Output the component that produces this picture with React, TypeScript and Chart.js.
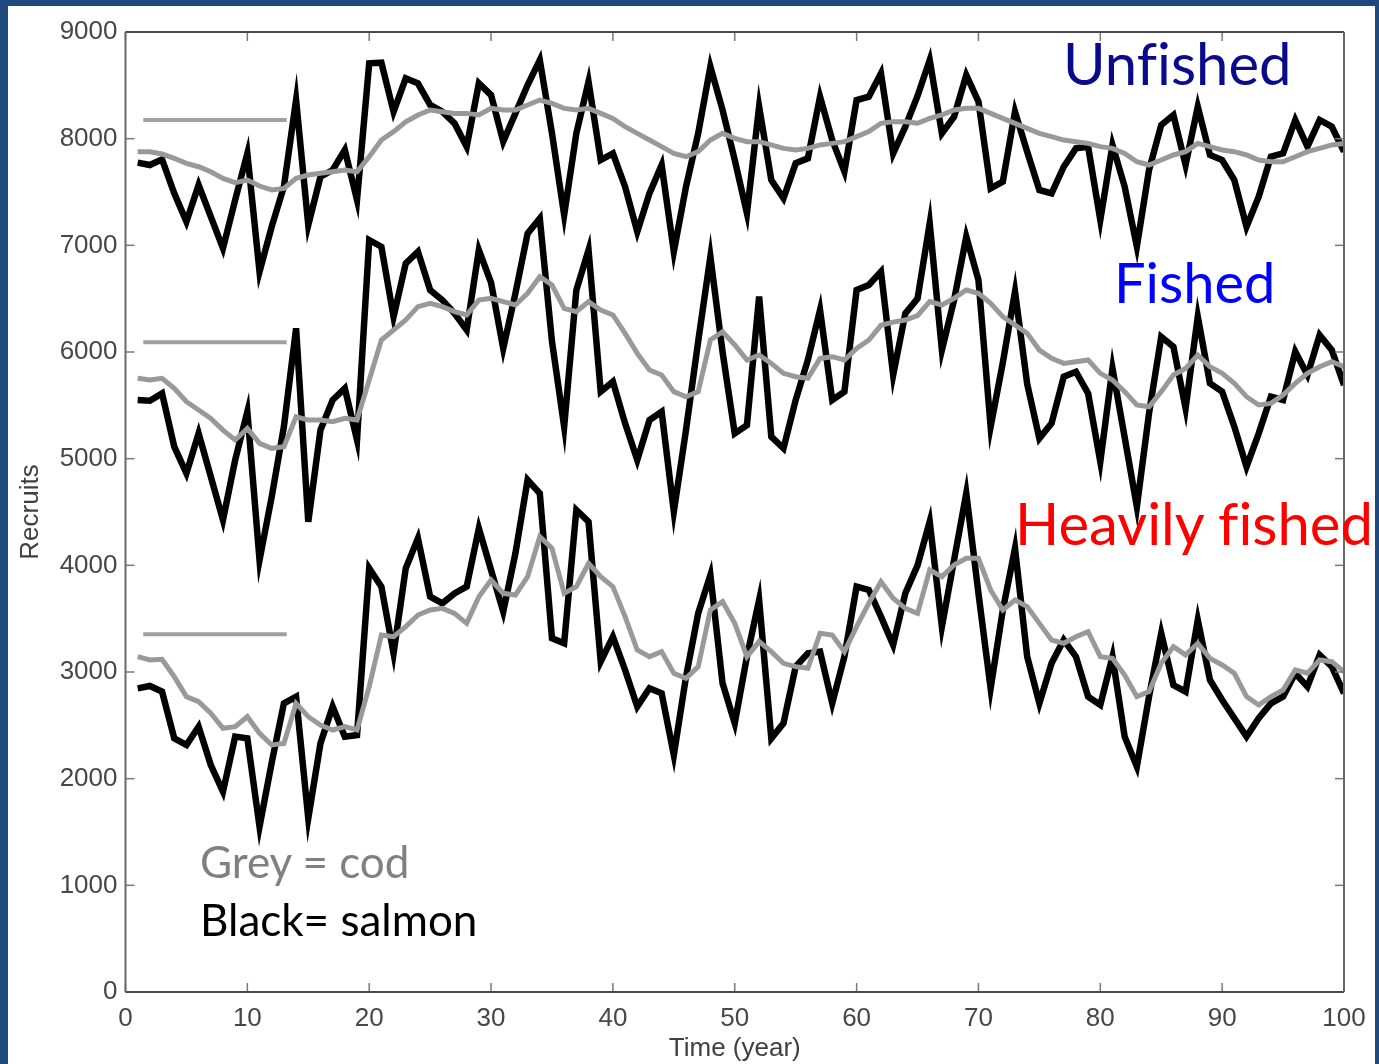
import React, { useEffect, useRef } from 'react';
import { Chart, registerables } from 'chart.js';

Chart.register(...registerables);

const years = [
  1, 2, 3, 4, 5, 6, 7, 8, 9, 10, 11, 12, 13, 14, 15, 16, 17, 18, 19, 20,
  21, 22, 23, 24, 25, 26, 27, 28, 29, 30, 31, 32, 33, 34, 35, 36, 37, 38, 39, 40,
  41, 42, 43, 44, 45, 46, 47, 48, 49, 50, 51, 52, 53, 54, 55, 56, 57, 58, 59, 60,
  61, 62, 63, 64, 65, 66, 67, 68, 69, 70, 71, 72, 73, 74, 75, 76, 77, 78, 79, 80,
  81, 82, 83, 84, 85, 86, 87, 88, 89, 90, 91, 92, 93, 94, 95, 96, 97, 98, 99, 100,
];

const unfishedSalmon = [
  7775, 7753, 7806, 7487, 7222, 7566, 7269, 6972, 7425, 7862,
  6753, 7175, 7550, 8362, 7190, 7644, 7706, 7894, 7425, 8706,
  8712, 8253, 8566, 8519, 8316, 8253, 8144, 7925, 8519, 8409,
  7972, 8237, 8503, 8737, 8050, 7284, 8050, 8534, 7800, 7862,
  7550, 7128, 7487, 7753, 6941, 7550, 8050, 8675, 8269, 7800,
  7300, 8300, 7612, 7441, 7769, 7816, 8394, 7987, 7691, 8362,
  8394, 8612, 7862, 8112, 8400, 8737, 8050, 8206, 8597, 8347,
  7534, 7597, 8253, 7878, 7519, 7487, 7737, 7909, 7925, 7237,
  7940, 7550, 6988, 7706, 8128, 8222, 7753, 8300, 7847, 7800,
  7612, 7175, 7456, 7831, 7862, 8175, 7925, 8175, 8112, 7878,
];

const unfishedCod = [
  7878, 7878, 7856, 7816, 7769, 7737, 7690, 7628, 7587, 7612,
  7556, 7519, 7534, 7628, 7659, 7675, 7690, 7706, 7690, 7831,
  7987, 8066, 8159, 8222, 8269, 8253, 8237, 8237, 8222, 8284,
  8269, 8269, 8316, 8362, 8331, 8284, 8269, 8284, 8237, 8190,
  8112, 8050, 7987, 7925, 7862, 7831, 7878, 7987, 8050, 8003,
  7972, 7972, 7941, 7909, 7894, 7909, 7941, 7956, 7972, 8019,
  8066, 8144, 8159, 8159, 8144, 8190, 8222, 8269, 8284, 8284,
  8237, 8190, 8144, 8097, 8050, 8019, 7987, 7972, 7956, 7925,
  7909, 7862, 7784, 7753, 7800, 7847, 7878, 7956, 7925, 7894,
  7878, 7847, 7800, 7784, 7784, 7831, 7878, 7909, 7941, 7956,
];

const fishedSalmon = [
  5550, 5543, 5612, 5112, 4862, 5237, 4831, 4425, 4987, 5440,
  4050, 4643, 5300, 6222, 4409, 5268, 5550, 5659, 5175, 7050,
  6987, 6331, 6831, 6941, 6581, 6487, 6362, 6206, 6956, 6650,
  6034, 6550, 7112, 7253, 6100, 5300, 6581, 6956, 5628, 5722,
  5331, 4987, 5362, 5440, 4503, 5268, 6100, 6894, 6000, 5237,
  5315, 6519, 5206, 5097, 5550, 5925, 6394, 5550, 5628, 6581,
  6628, 6753, 5784, 6362, 6500, 7206, 6019, 6487, 7081, 6675,
  5300, 5900, 6566, 5700, 5190, 5331, 5768, 5815, 5612, 4972,
  5846, 5200, 4550, 5425, 6143, 6050, 5472, 6331, 5706, 5628,
  5300, 4925, 5237, 5581, 5550, 6003, 5784, 6159, 6018, 5690,
];

const fishedCod = [
  5753, 5737, 5753, 5659, 5534, 5456, 5378, 5268, 5175, 5284,
  5143, 5097, 5112, 5393, 5362, 5362, 5346, 5378, 5362, 5737,
  6112, 6206, 6300, 6425, 6456, 6425, 6378, 6347, 6487, 6503,
  6472, 6441, 6550, 6706, 6628, 6409, 6378, 6472, 6394, 6347,
  6175, 5987, 5831, 5784, 5628, 5581, 5628, 6112, 6190, 6066,
  5925, 5972, 5893, 5800, 5768, 5753, 5940, 5956, 5925, 6034,
  6112, 6250, 6280, 6300, 6340, 6472, 6441, 6503, 6581, 6550,
  6456, 6331, 6253, 6175, 6018, 5940, 5893, 5909, 5925, 5800,
  5737, 5628, 5503, 5487, 5628, 5784, 5846, 5972, 5862, 5800,
  5706, 5581, 5503, 5518, 5597, 5706, 5800, 5862, 5909, 5862,
];

const heavySalmon = [
  2847, 2869, 2816, 2378, 2316, 2488, 2128, 1878, 2394, 2378,
  1550, 2150, 2706, 2769, 1628, 2331, 2675, 2394, 2409, 3972,
  3800, 3175, 3972, 4253, 3706, 3644, 3737, 3800, 4347, 3956,
  3566, 4113, 4800, 4675, 3316, 3269, 4519, 4409, 3097, 3331,
  3019, 2675, 2847, 2800, 2222, 2956, 3550, 3910, 2894, 2519,
  3144, 3675, 2378, 2519, 3050, 3175, 3191, 2706, 3144, 3800,
  3769, 3519, 3253, 3738, 4000, 4410, 3425, 4050, 4675, 3738,
  2847, 3581, 4160, 3144, 2706, 3081, 3300, 3144, 2769, 2691,
  3144, 2394, 2113, 2769, 3363, 2878, 2816, 3488, 2925, 2738,
  2566, 2394, 2566, 2706, 2769, 2988, 2863, 3160, 3050, 2800,
];

const heavyCod = [
  3144, 3113, 3119, 2956, 2769, 2722, 2613, 2472, 2488, 2581,
  2425, 2316, 2331, 2706, 2581, 2503, 2456, 2488, 2456, 2863,
  3347, 3331, 3425, 3534, 3581, 3597, 3550, 3456, 3706, 3863,
  3738, 3722, 3894, 4269, 4160, 3738, 3800, 4019, 3894, 3800,
  3519, 3206, 3144, 3191, 2988, 2941, 3050, 3581, 3660, 3456,
  3144, 3285, 3191, 3081, 3050, 3035, 3363, 3347, 3191, 3425,
  3644, 3847, 3691, 3597, 3550, 3956, 3894, 4003, 4066, 4066,
  3769, 3581, 3675, 3613, 3456, 3300, 3269, 3331, 3378, 3144,
  3128, 2972, 2769, 2816, 3081, 3238, 3160, 3269, 3128, 3066,
  2988, 2769, 2691, 2769, 2831, 3019, 2988, 3113, 3097, 3003,
];

// short grey reference bars at the left (start year, end year, level)
const barStart = [1.46, 1.46, 1.46];
const barEnd = [13.23, 13.23, 13.23];
const barLevel = [8175, 6091, 3353];

const xTickValues = [0, 10, 20, 30, 40, 50, 60, 70, 80, 90, 100];
const yTickValues = [0, 1000, 2000, 3000, 4000, 5000, 6000, 7000, 8000, 9000];

const toPoints = (vals: number[]) => vals.map((v, i) => ({ x: years[i], y: v }));

const plotFrame = {
  id: 'plotFrame',
  afterDraw(chart: any) {
    const { ctx, chartArea: a, scales } = chart;
    const x = scales.x;
    const y = scales.y;
    ctx.save();
    const seg = (x1: number, y1: number, x2: number, y2: number) => {
      ctx.beginPath();
      ctx.moveTo(x1, y1);
      ctx.lineTo(x2, y2);
      ctx.stroke();
    };
    ctx.strokeStyle = '#7a7a7a';
    ctx.lineWidth = 1.5;
    const L = 9;
    xTickValues.forEach((v) => {
      const px = x.getPixelForValue(v);
      seg(px, a.bottom, px, a.bottom - L);
      seg(px, a.top, px, a.top + L);
    });
    yTickValues.forEach((v) => {
      const py = y.getPixelForValue(v);
      seg(a.left, py, a.left + L, py);
      seg(a.right, py, a.right - L, py);
    });
    ctx.strokeStyle = '#4a4a4a';
    ctx.lineWidth = 2;
    seg(a.left, a.top, a.right, a.top);
    seg(a.left, a.bottom, a.right, a.bottom);
    ctx.strokeStyle = '#6a6a6a';
    seg(a.left, a.top, a.left, a.bottom);
    seg(a.right, a.top, a.right, a.bottom);
    ctx.restore();
  },
};

export default function App() {
  const canvasRef = useRef<HTMLCanvasElement | null>(null);

  useEffect(() => {
    const canvas = canvasRef.current;
    if (!canvas) return;
    const black = '#000000';
    const grey = '#999999';
    const mk = (label: string, vals: number[], color: string, width: number, order: number) => ({
      label,
      data: toPoints(vals),
      borderColor: color,
      backgroundColor: color,
      borderWidth: width,
      pointRadius: 0,
      tension: 0,
      fill: false,
      order,
    });
    const bars = barLevel.map((lvl, i) => ({
      label: 'bar' + i,
      data: [
        { x: barStart[i], y: lvl },
        { x: barEnd[i], y: lvl },
      ],
      borderColor: '#a0a0a0',
      borderWidth: 4,
      borderCapStyle: 'butt' as const,
      pointRadius: 0,
      fill: false,
      order: 0,
    }));
    const chart = new Chart(canvas, {
      type: 'line',
      data: {
        datasets: [
          mk('Unfished cod', unfishedCod, grey, 5, 1),
          mk('Fished cod', fishedCod, grey, 5, 1),
          mk('Heavily fished cod', heavyCod, grey, 5, 1),
          mk('Unfished salmon', unfishedSalmon, black, 6.5, 2),
          mk('Fished salmon', fishedSalmon, black, 6.5, 2),
          mk('Heavily fished salmon', heavySalmon, black, 6.5, 2),
          ...bars,
        ],
      },
      options: {
        responsive: false,
        animation: false,
        devicePixelRatio: 1,
        layout: { padding: { left: 0, right: 35, top: 32, bottom: 0 } },
        plugins: {
          legend: { display: false },
          tooltip: { enabled: false },
        },
        scales: {
          x: {
            type: 'linear',
            min: 0,
            max: 100,
            grid: { display: false, drawTicks: false },
            border: { display: false },
            afterBuildTicks: (scale: any) => {
              scale.ticks = xTickValues.map((v) => ({ value: v }));
            },
            afterFit: (scale: any) => {
              scale.height = 72;
            },
            ticks: {
              padding: 11,
              color: '#474747',
              font: { family: 'Liberation Sans', size: 26 },
              maxRotation: 0,
              autoSkip: false,
              callback: (v: any) => String(v),
            },
            title: {
              display: true,
              text: 'Time (year)',
              color: '#404040',
              font: { family: 'Liberation Sans', size: 26 },
              padding: { top: 0, bottom: 0 },
            },
          },
          y: {
            type: 'linear',
            min: 0,
            max: 9000,
            grid: { display: false, drawTicks: false },
            border: { display: false },
            afterBuildTicks: (scale: any) => {
              scale.ticks = yTickValues.map((v) => ({ value: v }));
            },
            afterFit: (scale: any) => {
              scale.width = 125.5;
            },
            ticks: {
              padding: 8,
              color: '#474747',
              font: { family: 'Liberation Sans', size: 26 },
              autoSkip: false,
              callback: (v: any) => String(v),
            },
            title: {
              display: true,
              text: 'Recruits',
              color: '#404040',
              font: { family: 'Liberation Sans', size: 26 },
              padding: { top: 15, bottom: 0 },
            },
          },
        },
      },
      plugins: [plotFrame],
    });
    return () => chart.destroy();
  }, []);

  const label = (text: string, color: string, size: number, left: number, baseline: number) => (
    <div
      style={{
        position: 'absolute',
        left,
        top: baseline - 0.987 * size,
        fontFamily: 'Lato, sans-serif',
        fontSize: size,
        lineHeight: `${1.2 * size}px`,
        color,
        whiteSpace: 'nowrap',
        fontVariantLigatures: 'none',
        fontFeatureSettings: '"liga" 0',
      }}
    >
      {text}
    </div>
  );

  return (
    <div
      style={{
        position: 'absolute',
        left: 0,
        top: 0,
        width: 1379,
        height: 1064,
        background: '#1F497D',
        overflow: 'hidden',
      }}
    >
      <div
        style={{
          position: 'absolute',
          left: 8,
          top: 6,
          width: 1367,
          height: 1058,
          background: '#ffffff',
        }}
      />
      <canvas
        ref={canvasRef}
        width={1379}
        height={1064}
        style={{ position: 'absolute', left: 0, top: 0, width: 1379, height: 1064 }}
      />
      {label('Unfished', '#0a0a8c', 58, 1063, 85)}
      {label('Fished', '#0000ff', 56, 1114, 303)}
      {label('Heavily fished', '#ff0000', 58, 1015, 545)}
      {label('Grey = cod', '#808080', 44, 200, 878)}
      {label('Black= salmon', '#000000', 44, 200, 936)}
    </div>
  );
}
